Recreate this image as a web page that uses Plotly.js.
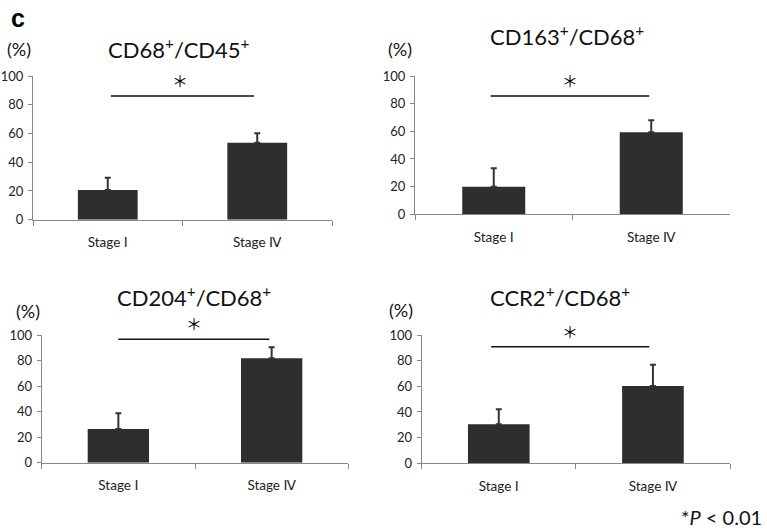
<!DOCTYPE html>
<html>
<head>
<meta charset="utf-8">
<script src="https://cdn.plot.ly/plotly-3.0.1.min.js"></script>
<style>html,body{margin:0;padding:0;background:#fff;}#chart{width:767px;height:531px;}</style>
</head>
<body>
<div id="chart"></div>
<script>
// ---- data ----
const stages = ["Stage Ⅰ", "Stage Ⅳ"];
const panelTitles = ["CD68<sup>+</sup>/CD45<sup>+</sup>", "CD163<sup>+</sup>/CD68<sup>+</sup>", "CD204<sup>+</sup>/CD68<sup>+</sup>", "CCR2<sup>+</sup>/CD68<sup>+</sup>"];
const cd68_cd45_mean = [20.7, 53.6];
const cd68_cd45_sd = [8.5, 6.5];
const cd163_cd68_mean = [20.0, 59.3];
const cd163_cd68_sd = [13.3, 8.7];
const cd204_cd68_mean = [26.4, 81.7];
const cd204_cd68_sd = [12.3, 8.7];
const ccr2_cd68_mean = [30.4, 60.2];
const ccr2_cd68_sd = [11.7, 16.7];
const yTicks = [0, 20, 40, 60, 80, 100];
const unitLabel = "(%)";
const sigMark = "＊";
const footnote = "*<i>P</i> < 0.01";
const panelLetter = "c";

const means = [cd68_cd45_mean, cd163_cd68_mean, cd204_cd68_mean, ccr2_cd68_mean];
const sds = [cd68_cd45_sd, cd163_cd68_sd, cd204_cd68_sd, ccr2_cd68_sd];

// ---- layout geometry (pixels) ----
const W = 767, H = 531;
const px = v => v / W;
const py = v => 1 - v / H;
const geom = [
  {x0: 33, x1: 332, yb: 219.7, yt: 76, sigY: 86, sx0: 0.02, sx1: 0.978, ax: 0.48, title: [179, 48], unit: [19, 49]},
  {x0: 415, x1: 730, yb: 214.3, yt: 76, sigY: 85.5, sx0: -0.02, sx1: 0.988, ax: 0.484, title: [567, 35], unit: [400, 49]},
  {x0: 41.7, x1: 348.3, yb: 462.7, yt: 335, sigY: 96.6, sx0: 0.0, sx1: 0.985, ax: 0.493, title: [194, 296], unit: [28, 311]},
  {x0: 421.7, x1: 730, yb: 463.3, yt: 335, sigY: 90.9, sx0: -0.05, sx1: 0.976, ax: 0.462, title: [560, 296], unit: [401, 310]}
];

const sansFam = "Lato, 'DejaVu Sans', 'Open Sans', 'Noto Sans CJK JP', sans-serif";
const tickFont = {family: sansFam, size: 13, color: "#222"};
const traces = [];
const layout = {
  width: W, height: H,
  margin: {l: 0, r: 0, t: 0, b: 0},
  paper_bgcolor: "#fff", plot_bgcolor: "rgba(0,0,0,0)",
  showlegend: false,
  bargap: 0.6,
  shapes: [], annotations: []
};

geom.forEach((g, i) => {
  const n = i === 0 ? "" : String(i + 1);
  traces.push({
    type: "bar",
    x: stages, y: means[i],
    xaxis: "x" + n, yaxis: "y" + n,
    marker: {color: "#2e2e2e", line: {width: 0}},
    error_y: {type: "data", symmetric: false, array: sds[i], arrayminus: [0, 0], color: "#333", thickness: 2, width: 3},
    hoverinfo: "skip"
  });
  layout["xaxis" + n] = {
    domain: [px(g.x0), px(g.x1)], anchor: "y" + n,
    type: "category", range: [-0.5, 1.5],
    tickson: "boundaries", ticks: "outside", ticklen: 5, tickcolor: "#888", tickwidth: 1,
    ticklabelstandoff: 10,
    showline: true, linecolor: "#888", linewidth: 1,
    showgrid: false, zeroline: false, fixedrange: true,
    tickfont: Object.assign({}, tickFont, {size: 13.5})
  };
  layout["yaxis" + n] = {
    domain: [py(g.yb), py(g.yt)], anchor: "x" + n,
    range: [0, 100], tickvals: yTicks,
    ticks: "outside", ticklen: 4, tickcolor: "#888", tickwidth: 1,
    ticklabelstandoff: 2,
    showline: true, linecolor: "#888", linewidth: 1,
    showgrid: false, zeroline: false, fixedrange: true,
    tickfont: tickFont
  };
  layout.shapes.push({type: "line", xref: "x" + n, yref: "y" + n, x0: g.sx0, x1: g.sx1, y0: g.sigY, y1: g.sigY, line: {color: "#111", width: 1.5}});
  layout.annotations.push({xref: "x" + n, yref: "y" + n, x: g.ax, y: g.sigY, text: sigMark, showarrow: false, yanchor: "bottom", yshift: 2, font: {family: "'Noto Sans CJK JP', sans-serif", size: 16, color: "#000"}});
  layout.annotations.push({xref: "paper", yref: "paper", x: px(g.title[0]), y: py(g.title[1]), text: panelTitles[i], showarrow: false, xanchor: "center", yanchor: "middle", font: {family: sansFam, size: 22, color: "#111"}});
  layout.annotations.push({xref: "paper", yref: "paper", x: px(g.unit[0]), y: py(g.unit[1]), text: unitLabel, showarrow: false, xanchor: "center", yanchor: "middle", font: {family: sansFam, size: 18, color: "#111"}});
});

layout.annotations.push({xref: "paper", yref: "paper", x: px(9), y: py(18), text: "<b>" + panelLetter + "</b>", showarrow: false, xanchor: "left", yanchor: "middle", font: {family: "'Liberation Sans', Arial, sans-serif", size: 25, color: "#000"}});
layout.annotations.push({xref: "paper", yref: "paper", x: px(764), y: py(517), text: footnote, showarrow: false, xanchor: "right", yanchor: "middle", font: {family: sansFam, size: 20, color: "#111"}});

Plotly.newPlot("chart", traces, layout, {staticPlot: true});
</script>
</body>
</html>
